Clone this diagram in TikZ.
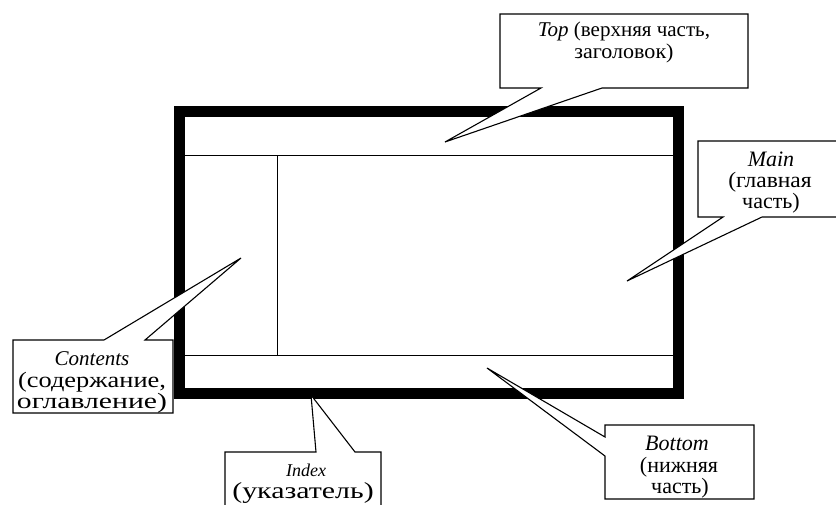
\documentclass[tikz,border=0pt]{standalone}
\usepackage{graphicx}
\usepackage{fontspec}
\setmainfont{Liberation Serif}
\newcommand\stretchtxt[2]{\scalebox{#1}[1]{#2}}
\begin{document}
\begin{tikzpicture}[x=1pt,y=-1pt,line join=miter,
  frame/.style={line width=11pt},
  sep/.style={line width=1pt},
  callout/.style={draw=black,fill=white,line width=1.1pt},
  lbl/.style={anchor=base,inner sep=0pt,font=\fontsize{22}{24}\selectfont}]
\useasboundingbox (0,0) rectangle (836,504);
\clip (0,0) rectangle (836,504);
% frame
\draw[frame] (179.5,111.5) rectangle (678.5,393.5);
\draw[sep] (185,155) -- (673,155);
\draw[sep] (185,355) -- (673,355);
\draw[sep] (277,155) -- (277,355);
% pointer tips
\coordinate (tipTop) at (445,142);
\coordinate (tipCont) at (241,258);
\coordinate (tipMain) at (627,281);
\coordinate (tipIndex) at (311,395);
\coordinate (tipBottom) at (487,368);
% callouts
\draw[callout] (500,14) -- (748,14) -- (748,88) -- (602,88) -- (tipTop) -- (541,88) -- (500,88) -- cycle;
\draw[callout] (13,340) -- (104,340) -- (tipCont) -- (145,340) -- (173,340) -- (173,413) -- (13,413) -- cycle;
\draw[callout] (698,141) -- (842,141) -- (842,217) -- (762,217) -- (tipMain) -- (723,217) -- (698,217) -- cycle;
\draw[callout] (225,452) -- (316,452) -- (tipIndex) -- (355,452) -- (381,452) -- (381,515) -- (225,515) -- cycle;
\draw[callout] (605,425) -- (754,425) -- (754,499) -- (605,499) -- (605,456) -- (tipBottom) -- (605,437) -- cycle;
% texts
\node[lbl,font=\fontsize{21}{24}\selectfont] (t1) at (624,36) {\textit{Top} (верхняя часть,};
\node[lbl,font=\fontsize{21}{24}\selectfont] (t2) at (624,58) {\stretchtxt{1.05}{заголовок)}};
\node[lbl,font=\fontsize{21}{24}\selectfont] (c1) at (92,365) {\textit{Contents}};
\node[lbl] (c2) at (92,387) {\stretchtxt{1.2}{(содержание,}};
\node[lbl] (c3) at (92,408) {\stretchtxt{1.35}{оглавление)}};
\node[lbl] (m1) at (771,166) {\textit{Main}};
\node[lbl] (m2) at (770,187) {\stretchtxt{1.07}{(главная}};
\node[lbl] (m3) at (771,208) {часть)};
\node[lbl,font=\fontsize{18}{24}\selectfont] (i1) at (306,476) {\textit{Index}};
\node[lbl,font=\fontsize{23}{24}\selectfont] (i2) at (303,498) {\stretchtxt{1.3}{(указатель)}};
\node[lbl] (b1) at (677,450) {\textit{Bottom}};
\node[lbl] (b2) at (679,472) {(нижняя};
\node[lbl] (b3) at (680,493) {часть)};
\end{tikzpicture}
\end{document}
